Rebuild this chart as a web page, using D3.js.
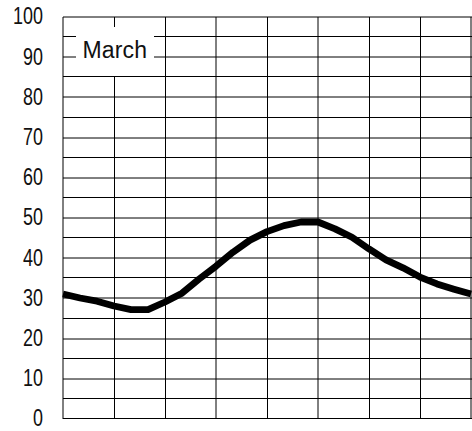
<!DOCTYPE html>
<html>
<head>
<meta charset="utf-8">
<script src="https://cdn.jsdelivr.net/npm/d3@7"></script>
<style>
  html, body { margin: 0; padding: 0; background: #fff; }
  svg { display: block; }
</style>
</head>
<body>
<svg id="chart" width="472" height="431"></svg>
<script>
(function () {
// ---- data ----
const hours = d3.range(0, 25); // 0..24
const temps = [31.1, 30.1, 29.3, 28.1, 27.2, 27.2, 29.1, 31.3, 34.8, 38.0,
               41.5, 44.5, 46.6, 48.1, 49.0, 49.0, 47.3, 45.2, 42.3, 39.6,
               37.6, 35.3, 33.6, 32.3, 31.1];
const yTicks = [0, 10, 20, 30, 40, 50, 60, 70, 80, 90, 100];
const yGrid = d3.range(0, 101, 5);
const xGrid = [0, 3, 6, 9, 12, 15, 18, 21, 24];
const legendLabel = "March";

// ---- layout ----
const svg = d3.select("#chart");
const mLeft = 63, mRight = 471, mTop = 17, mBottom = 419;
const x = d3.scaleLinear().domain([0, 24]).range([mLeft, mRight]);
const y = d3.scaleLinear().domain([0, 100]).range([mBottom, mTop]);

const softX = new Set([0, 9, 15, 24]);
const hy = d => (d % 10 === 0 && d !== 0) ? Math.round(y(d)) : Math.round(y(d)) - 0.5;
const vx = d => softX.has(d) ? Math.round(x(d)) : Math.round(x(d)) + 0.5;

const grid = svg.append("g");
grid.selectAll("line.h").data(yGrid).join("line")
  .attr("class", "h")
  .attr("x1", mLeft).attr("x2", mRight + 1)
  .attr("y1", hy).attr("y2", hy)
  .attr("stroke", "#000").attr("stroke-width", 1);
grid.selectAll("line.v").data(xGrid).join("line")
  .attr("class", "v")
  .attr("x1", vx).attr("x2", vx)
  .attr("y1", mTop).attr("y2", mBottom)
  .attr("stroke", "#000").attr("stroke-width", 1);

// y axis labels (condensed look via horizontal scale)
const sx = 0.78;
const yAxis = d3.axisLeft(y).tickValues(yTicks).tickSize(0).tickPadding(20).tickFormat(d3.format("d"));
const ag = svg.append("g").attr("transform", `translate(${mLeft},0)`).call(yAxis);
ag.select(".domain").remove();
ag.selectAll("text")
  .attr("font-family", "'Liberation Sans', Arial, sans-serif")
  .attr("font-size", 23)
  .attr("dy", "0.3em")
  .attr("x", -20 / sx)
  .attr("transform", `scale(${sx},1)`)
  .attr("fill", "#111");

// legend
const lg = svg.append("g");
lg.append("rect").attr("x", 76).attr("y", 27).attr("width", 78).attr("height", 49).attr("fill", "#fff");
lg.append("text").attr("x", 82.5).attr("y", 58)
  .attr("font-family", "'Liberation Sans', Arial, sans-serif")
  .attr("font-size", 23)
  .attr("textLength", 64.5).attr("lengthAdjust", "spacing")
  .attr("fill", "#111")
  .text(legendLabel);

// data line
const line = d3.line().x((d, i) => x(hours[i])).y(d => y(d));
svg.append("path").datum(temps)
  .attr("d", line)
  .attr("fill", "none")
  .attr("stroke", "#000")
  .attr("stroke-width", 6.8)
  .attr("stroke-linejoin", "round")
  .attr("stroke-linecap", "butt");
})();
</script>
</body>
</html>
